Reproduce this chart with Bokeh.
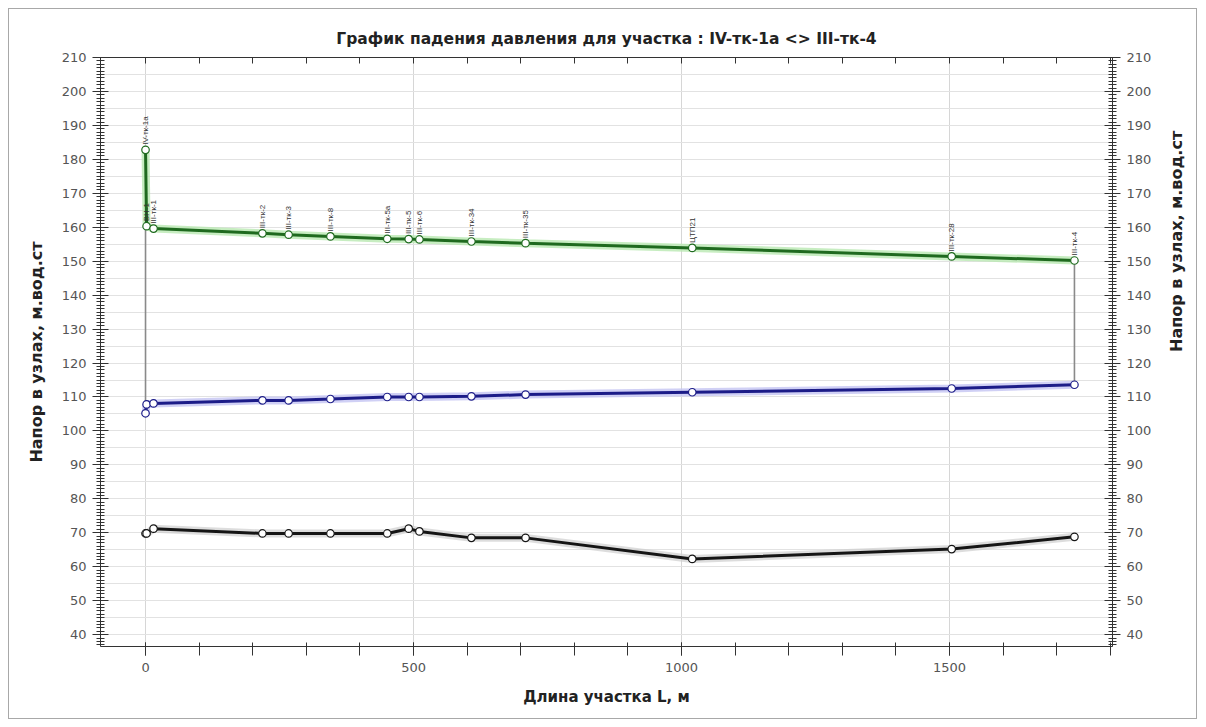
import math
from bokeh.plotting import figure
from bokeh.models import (Range1d, LinearAxis, SingleIntervalTicker, Grid,
                          ColumnDataSource)
from bokeh.core.properties import value
from bokeh.embed import file_html
from bokeh.resources import INLINE

title_text = "График падения давления для участка : IV-тк-1a <> III-тк-4"
x_label = "Длина участка L, м"
y_label = "Напор в узлах, м.вод.ст"

node_names = ["IV-тк-1а", "ВН-1", "III-тк-1", "III-тк-2", "III-тк-3", "III-тк-8",
              "III-тк-5а", "III-тк-5", "III-тк-6", "III-тк-34", "III-тк-35",
              "ЦТП21", "III-тк-28", "III-тк-4"]
distance_m = [0, 2, 15, 218, 267, 345, 451, 491, 511, 608, 709, 1020, 1504, 1733]
supply_head = [182.8, 160.3, 159.6, 158.2, 157.8, 157.3, 156.6, 156.5, 156.4,
               155.8, 155.3, 153.9, 151.4, 150.2]
return_head = [105.2, 107.8, 108.1, 109.0, 109.0, 109.4, 110.0, 110.0, 110.0,
               110.2, 110.7, 111.4, 112.5, 113.6]
ground_level = [69.8, 69.8, 71.2, 69.8, 69.8, 69.8, 69.8, 71.2, 70.4,
                68.5, 68.5, 62.3, 65.2, 68.8]

FONT = "DejaVu Sans"
LBL = "#555555"
AX = "#333333"

p = figure(width=1189, height=711, output_backend="svg", toolbar_location=None,
           x_range=Range1d(-84, 1804), y_range=Range1d(36.5, 210),
           x_axis_type=None, y_axis_type=None,
           min_border_left=91, min_border_right=86, min_border_top=48,
           min_border_bottom=74)
p.styles = {"margin": "8px 0px 0px 8px", "border": "1px solid #a8a8a8"}
p.outline_line_color = None
p.background_fill_color = "white"
p.border_fill_color = "white"

p.title.text = title_text
p.title.text_font = FONT
p.title.text_font_size = "15.5px"
p.title.text_font_style = "bold"
p.title.text_color = "#222222"
p.title.align = "center"
p.title.standoff = 20

# grids
p.add_layout(Grid(dimension=0, ticker=SingleIntervalTicker(interval=500),
                  grid_line_color="#d6d6d6"))
p.add_layout(Grid(dimension=1, ticker=SingleIntervalTicker(interval=5),
                  grid_line_color="#e2e2e2"))


def style_y(ax):
    ax.axis_line_color = AX
    ax.major_tick_line_color = AX
    ax.minor_tick_line_color = AX
    ax.major_tick_in = 8
    ax.major_tick_out = 8
    ax.minor_tick_in = 4
    ax.minor_tick_out = 4
    ax.major_label_text_font = FONT
    ax.major_label_text_font_size = "13px"
    ax.major_label_text_color = LBL
    ax.major_label_standoff = 6
    ax.axis_label_text_font = FONT
    ax.axis_label_text_font_size = "16px"
    ax.axis_label_text_font_style = "bold"
    ax.axis_label_text_color = "#222222"


yl = LinearAxis(ticker=SingleIntervalTicker(interval=10, num_minor_ticks=10),
                axis_label=y_label)
style_y(yl)
yl.axis_label_standoff = 13
p.add_layout(yl, "left")

yr = LinearAxis(ticker=SingleIntervalTicker(interval=10, num_minor_ticks=10),
                axis_label=y_label)
style_y(yr)
yr.axis_label_standoff = 22
try:
    yr.axis_label_orientation = math.pi / 2
except AttributeError:
    pass
p.add_layout(yr, "right")

xb = LinearAxis(ticker=SingleIntervalTicker(interval=500, num_minor_ticks=5),
                axis_label=x_label)
xb.axis_line_color = AX
xb.major_tick_line_color = AX
xb.minor_tick_line_color = AX
xb.major_tick_in = 4
xb.major_tick_out = 9
xb.minor_tick_in = 4
xb.minor_tick_out = 9
xb.major_label_text_font = FONT
xb.major_label_text_font_size = "13px"
xb.major_label_text_color = LBL
xb.major_label_standoff = 7
xb.axis_label_text_font = FONT
xb.axis_label_text_font_size = "15px"
xb.axis_label_text_font_style = "bold"
xb.axis_label_text_color = "#222222"
xb.axis_label_standoff = 13
p.add_layout(xb, "below")

xt = LinearAxis(ticker=SingleIntervalTicker(interval=100, num_minor_ticks=0))
xt.axis_line_color = AX
xt.major_tick_line_color = AX
xt.major_tick_in = 6
xt.major_tick_out = 0
xt.major_label_text_font_size = "1px"
xt.major_label_text_color = None
xt.major_label_standoff = 0
p.add_layout(xt, "above")

src = ColumnDataSource(dict(x=distance_m, s=supply_head, r=return_head,
                            g=ground_level, name=node_names))

# end connector lines supply -> return
p.segment(x0=[distance_m[0], distance_m[-1]], y0=[supply_head[0], supply_head[-1]],
          x1=[distance_m[0], distance_m[-1]], y1=[return_head[0], return_head[-1]],
          line_color="#8a8a8a", line_width=1.6)

# glow underlays
p.line("x", "s", source=src, line_color="#b9e8b2", line_width=8, line_alpha=0.8)
p.line("x", "r", source=src, line_color="#c4c4f2", line_width=8, line_alpha=0.8)
p.line("x", "g", source=src, line_color="#cfcfcf", line_width=8, line_alpha=0.7)

p.line("x", "s", source=src, line_color="#1f6a1f", line_width=3)
p.line("x", "r", source=src, line_color="#1c1c88", line_width=3)
p.line("x", "g", source=src, line_color="#151515", line_width=3)

for col, c in (("s", "#1f6a1f"), ("r", "#1c1c88"), ("g", "#151515")):
    p.scatter("x", col, source=src, marker="circle", size=7.5, fill_color="white",
              line_color=c, line_width=1.2)

p.text("x", "s", text="name", source=src, angle=math.pi / 2, text_align="left",
       text_baseline="middle", text_font=value("Liberation Sans"),
       text_font_size="8px", text_color="#333333", y_offset=-5)

open("out.html", "w").write(file_html(p, INLINE))
